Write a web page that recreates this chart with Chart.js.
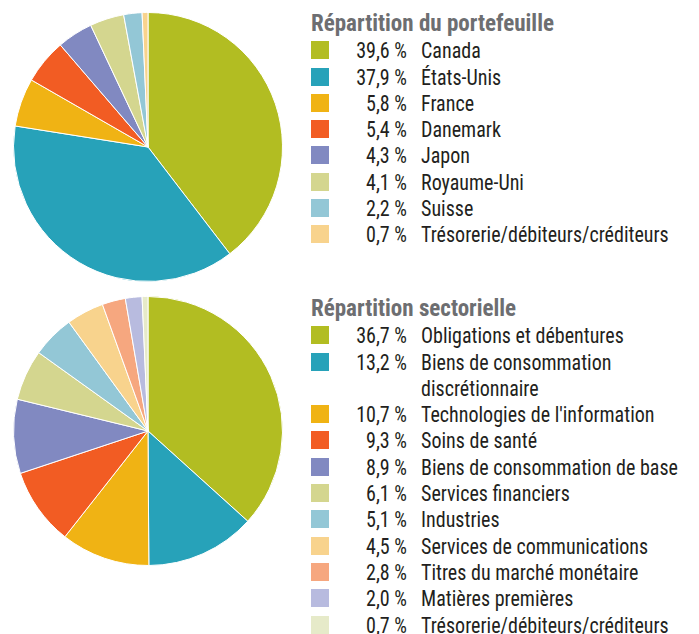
<!DOCTYPE html>
<html lang="fr">
<head>
<meta charset="utf-8">
<script src="https://cdn.jsdelivr.net/npm/chart.js@4.4.1/dist/chart.umd.min.js"></script>
<style>
  body { margin: 0; width: 699px; height: 634px; background: #fff; position: relative; overflow: hidden;
         font-family: "Liberation Sans Narrow", "Roboto Condensed", sans-serif; }
  .pie { position: absolute; width: 270px; height: 270px; }
  .legend { position: absolute; left: 311px; }
  .legend h2 { margin: 0; font-size: 23px; line-height: 26.3px; font-weight: bold; color: #6d6e71;
               white-space: nowrap; }
  .row { display: flex; align-items: flex-start; font-size: 22.5px; line-height: 26.3px; color: #231f20; }
  .sw { width: 18px; height: 18px; margin-top: 4px; flex: none; }
  .pct { width: 78px; text-align: right; flex: none; transform: scaleX(0.89); transform-origin: right center; }
  .lbl { margin-left: 14px; width: 300px; flex: none; transform: scaleX(0.89); transform-origin: left center; }
</style>
</head>
<body>
<canvas id="pieCountry" class="pie" style="left:13px; top:12px;"></canvas>
<canvas id="pieSector" class="pie" style="left:13px; top:296px;"></canvas>
<div id="legCountry" class="legend" style="top:11px;"></div>
<div id="legSector" class="legend" style="top:296px;"></div>
<script>
// Répartition du portefeuille
const countryTitle = 'Répartition du portefeuille';
const countryLabels = ['Canada', 'États-Unis', 'France', 'Danemark', 'Japon', 'Royaume-Uni', 'Suisse',
  'Trésorerie/débiteurs/créditeurs'];
const countryValues = [39.6, 37.9, 5.8, 5.4, 4.3, 4.1, 2.2, 0.7];
const countryColors = ['#b2bd22', '#27a2b9', '#f0b314', '#f25c23', '#8189c1', '#d4d68f', '#93c7d6', '#f8d38d'];

// Répartition sectorielle
const sectorTitle = 'Répartition sectorielle';
const sectorLabels = ['Obligations et débentures', 'Biens de consommation discrétionnaire',
  "Technologies de l'information", 'Soins de santé', 'Biens de consommation de base',
  'Services financiers', 'Industries', 'Services de communications', 'Titres du marché monétaire',
  'Matières premières', 'Trésorerie/débiteurs/créditeurs'];
const sectorValues = [36.7, 13.2, 10.7, 9.3, 8.9, 6.1, 5.1, 4.5, 2.8, 2.0, 0.7];
const sectorColors = ['#b2bd22', '#27a2b9', '#f0b314', '#f25c23', '#8189c1', '#d4d68f', '#93c7d6',
  '#f8d38d', '#f6a77f', '#b8bbdf', '#e6eac9'];

const fmtPct = v => v.toFixed(1).replace('.', ',') + '\u00a0%';

function drawPie(id, labels, values, colors) {
  const ctx = document.getElementById(id).getContext('2d');
  return new Chart(ctx, {
    type: 'pie',
    data: {
      labels: labels,
      datasets: [{
        data: values,
        backgroundColor: colors,
        borderColor: '#ffffff',
        borderWidth: 1,
      }],
    },
    options: {
      responsive: false,
      animation: false,
      events: [],
      layout: { padding: 0 },
      plugins: {
        legend: { display: false },
        tooltip: { enabled: false },
      },
    },
  });
}

function drawLegend(id, title, labels, values, colors) {
  const box = document.getElementById(id);
  const h = document.createElement('h2');
  h.textContent = title;
  box.appendChild(h);
  labels.forEach((label, i) => {
    const row = document.createElement('div');
    row.className = 'row';
    row.innerHTML = '<span class="sw"></span><span class="pct"></span><span class="lbl"></span>';
    row.children[0].style.background = colors[i];
    row.children[1].textContent = fmtPct(values[i]);
    row.children[2].textContent = label;
    box.appendChild(row);
  });
}

drawPie('pieCountry', countryLabels, countryValues, countryColors);
drawPie('pieSector', sectorLabels, sectorValues, sectorColors);
drawLegend('legCountry', countryTitle, countryLabels, countryValues, countryColors);
drawLegend('legSector', sectorTitle, sectorLabels, sectorValues, sectorColors);
</script>
</body>
</html>
